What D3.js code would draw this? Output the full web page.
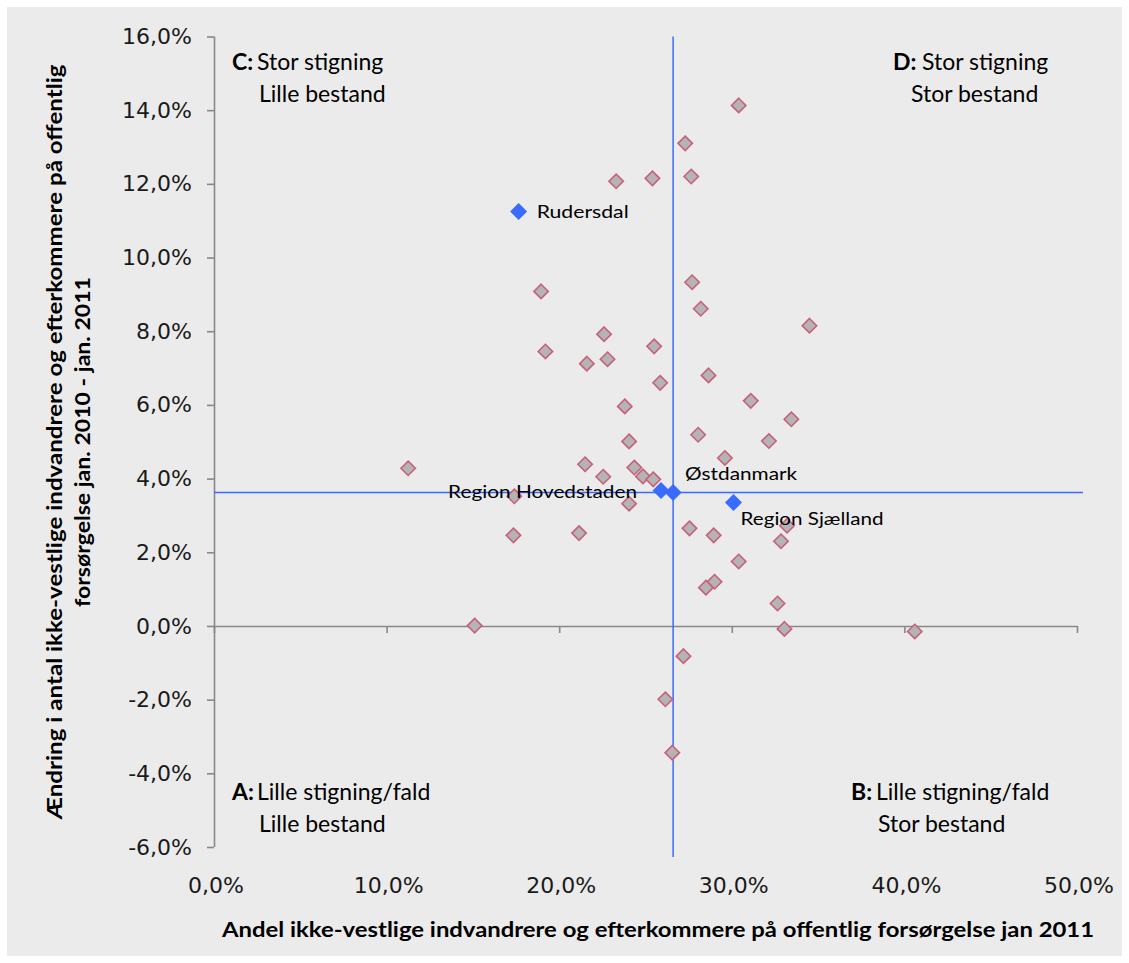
<!DOCTYPE html>
<html>
<head>
<meta charset="utf-8">
<script src="https://cdn.jsdelivr.net/npm/d3@7"></script>
<style>
	body { margin: 0; background: #fff; }
	svg text { fill: #000; }
	.tick-label { font-family: 'DejaVu Sans', sans-serif; font-size: 22px; fill: #1a1a1a; }
	.note { font-family: Lato, sans-serif; font-size: 23px; }
	.point-label { font-family: Lato, sans-serif; font-size: 18px; }
	.title { font-family: Lato, sans-serif; font-size: 20px; font-weight: bold; }
</style>
</head>
<body>
<svg id="chart"></svg>
<script>
// data (percent)
let kommuneX = [30.4, 27.3, 23.3, 25.4, 27.65, 27.7, 18.95, 28.2, 34.5, 22.6, 19.2, 25.5, 21.6, 22.8, 28.65, 25.85, 31.1, 23.8, 33.45, 28.05, 24.05, 32.15, 29.6, 11.25, 21.5, 22.55, 24.35, 24.85, 25.45, 17.4, 24.05, 17.35, 21.15, 27.55, 28.95, 33.2, 32.85, 30.4, 29.0, 28.5, 32.65, 15.1, 33.05, 40.6, 27.2, 26.15, 26.55];
let kommuneY = [14.13, 13.1, 12.07, 12.15, 12.2, 9.33, 9.08, 8.61, 8.15, 7.92, 7.45, 7.59, 7.12, 7.24, 6.8, 6.6, 6.11, 5.96, 5.61, 5.19, 5.01, 5.02, 4.56, 4.28, 4.39, 4.05, 4.3, 4.06, 3.98, 3.52, 3.32, 2.46, 2.52, 2.65, 2.46, 2.72, 2.3, 1.75, 1.2, 1.04, 0.61, 0.01, -0.08, -0.15, -0.82, -1.99, -3.44];

let highlightNames = ['Rudersdal', 'Region Hovedstaden', 'Østdanmark', 'Region Sjælland'];
let highlightX = [17.65, 25.9, 26.6, 30.1];
let highlightY = [11.25, 3.68, 3.62, 3.35];

// reference lines at Østdanmark
let refX = 26.6;
let refY = 3.62;

let xTicks = [0, 10, 20, 30, 40, 50];
let yTicks = [-6, -4, -2, 0, 2, 4, 6, 8, 10, 12, 14, 16];

let quadrants = [
	{ key: 'C:', lines: ['Stor stigning', 'Lille bestand'], x: 232, y: 70 },
	{ key: 'D:', lines: ['Stor stigning', 'Stor bestand'], x: 893, y: 70 },
	{ key: 'A:', lines: ['Lille stigning/fald', 'Lille bestand'], x: 232, y: 800 },
	{ key: 'B:', lines: ['Lille stigning/fald', 'Stor bestand'], x: 851, y: 800 }
];

// label placement next to the blue points
let labelPos = {
	'Rudersdal': { dx: 18, dy: 7, anchor: 'start', len: 92 },
	'Region Hovedstaden': { dx: -24, dy: 8, anchor: 'end', len: 189 },
	'Østdanmark': { dx: 12, dy: -13, anchor: 'start', len: 112 },
	'Region Sjælland': { dx: 7, dy: 22, anchor: 'start', len: 143 }
};

let W = 1129, H = 963;
let svg = d3.select('#chart').attr('width', W).attr('height', H);

svg.append('rect')
	.attr('x', 7).attr('y', 7)
	.attr('width', W - 14).attr('height', H - 14)
	.attr('fill', '#ebebeb');

let x = d3.scaleLinear().domain([0, 50]).range([214, 1077]);
let y = d3.scaleLinear().domain([-6, 16]).range([847, 36.5]);
let fmt = function(d) { return d.toFixed(1).replace('.', ',') + '%' };

// y axis
let yAxis = svg.append('g')
	.attr('transform', 'translate(' + x(0) + ',0)')
	.call(d3.axisLeft(y).tickValues(yTicks).tickSize(7).tickSizeOuter(0).tickPadding(15).tickFormat(fmt));
yAxis.selectAll('text').attr('class', 'tick-label');

// x axis at 0%
let xAxis = svg.append('g')
	.attr('transform', 'translate(0,' + y(0) + ')')
	.call(d3.axisBottom(x).tickValues(xTicks).tickSize(7).tickSizeOuter(0).tickFormat(''));

svg.selectAll('.domain, .tick line').attr('stroke', '#888').attr('stroke-width', 1.6);
yAxis.select('.domain').attr('d', 'M0.5,' + y(16) + 'V' + y(-6));

svg.selectAll('.x-label')
	.data(xTicks)
	.enter()
	.append('text')
	.attr('class', 'tick-label x-label')
	.attr('x', function(d) { return x(d) + 2 })
	.attr('y', 893)
	.attr('text-anchor', 'middle')
	.text(fmt);

// reference lines
svg.append('line')
	.attr('x1', x(refX)).attr('x2', x(refX))
	.attr('y1', y(16)).attr('y2', y(-6) + 10)
	.attr('stroke', '#3a6bff').attr('stroke-width', 1.5);
svg.append('line')
	.attr('x1', x(0)).attr('x2', x(50) + 6)
	.attr('y1', y(refY)).attr('y2', y(refY))
	.attr('stroke', '#3a6bff').attr('stroke-width', 1.5);

function diamond(r) {
	return 'M0,' + (-r) + 'L' + r + ',0L0,' + r + 'L' + (-r) + ',0Z';
}

// kommuner
svg.selectAll('.kommune')
	.data(d3.range(kommuneX.length))
	.enter()
	.append('path')
	.attr('class', 'kommune')
	.attr('transform', function(i) { return 'translate(' + x(kommuneX[i]) + ',' + y(kommuneY[i]) + ')' })
	.attr('d', diamond(7.2))
	.attr('fill', '#b4b4b4')
	.attr('stroke', '#c8607c')
	.attr('stroke-width', 1.6);

// highlighted areas
let hl = svg.selectAll('.highlight')
	.data(d3.range(highlightNames.length))
	.enter()
	.append('g')
	.attr('class', 'highlight')
	.attr('transform', function(i) { return 'translate(' + x(highlightX[i]) + ',' + y(highlightY[i]) + ')' });

hl.append('path')
	.attr('d', diamond(8.5))
	.attr('fill', '#3a6bff');

hl.append('text')
	.attr('class', 'point-label')
	.attr('x', function(i) { return labelPos[highlightNames[i]].dx })
	.attr('y', function(i) { return labelPos[highlightNames[i]].dy })
	.attr('text-anchor', function(i) { return labelPos[highlightNames[i]].anchor })
	.attr('textLength', function(i) { return labelPos[highlightNames[i]].len })
	.attr('lengthAdjust', 'spacingAndGlyphs')
	.text(function(i) { return highlightNames[i] });

// quadrant notes
let q = svg.selectAll('.quadrant')
	.data(quadrants)
	.enter()
	.append('g')
	.attr('class', 'quadrant')
	.attr('transform', function(d) { return 'translate(' + d.x + ',' + d.y + ')' });

q.append('text')
	.attr('class', 'note')
	.style('font-weight', 'bold')
	.text(function(d) { return d.key });
q.append('text')
	.attr('class', 'note')
	.attr('x', function(d) { return d.key == 'D:' ? 29 : 25 })
	.text(function(d) { return d.lines[0] });
q.append('text')
	.attr('class', 'note')
	.attr('x', function(d) { return d.key == 'D:' ? 18 : 27 })
	.attr('y', 32)
	.text(function(d) { return d.lines[1] });

// axis titles
svg.append('text')
	.attr('class', 'title')
	.attr('x', 658).attr('y', 937)
	.attr('text-anchor', 'middle')
	.attr('textLength', 872)
	.attr('lengthAdjust', 'spacingAndGlyphs')
	.text('Andel ikke-vestlige indvandrere og efterkommere på offentlig forsørgelse jan 2011');

svg.append('text')
	.attr('class', 'title')
	.attr('transform', 'translate(62,442) rotate(-90)')
	.attr('text-anchor', 'middle')
	.attr('textLength', 755)
	.attr('lengthAdjust', 'spacingAndGlyphs')
	.text('Ændring i antal ikke-vestlige indvandrere og efterkommere på offentlig');

svg.append('text')
	.attr('class', 'title')
	.attr('transform', 'translate(90,442) rotate(-90)')
	.attr('text-anchor', 'middle')
	.attr('textLength', 330)
	.attr('lengthAdjust', 'spacingAndGlyphs')
	.text('forsørgelse jan. 2010 - jan. 2011');
</script>
</body>
</html>
